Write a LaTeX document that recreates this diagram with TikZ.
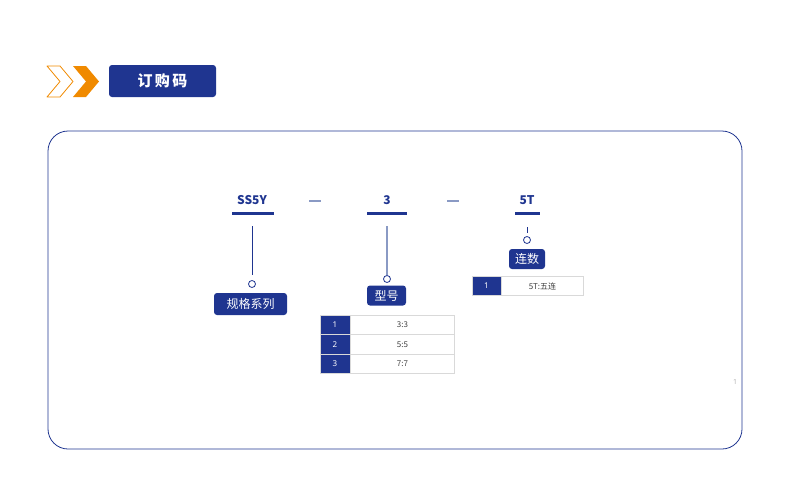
\documentclass[tikz,border=0pt]{standalone}
\usepackage{fontspec}
\setmainfont{Noto Sans}
\newfontfamily\cjk{Noto Sans CJK SC}
\definecolor{navy}{HTML}{1F3590}
\definecolor{orng}{HTML}{F08A00}
\definecolor{dashc}{HTML}{8A9AC4}
\definecolor{gridc}{HTML}{D9D9D9}
\tikzset{
  tag/.style={fill=navy, rounded corners=3pt, text=white, font=\cjk\fontsize{12}{12}\selectfont, inner sep=0pt},
  bar/.style={navy, line width=3pt},
  dot/.style={draw=navy, fill=white, circle, inner sep=0pt, minimum size=7pt, line width=0.8pt},
  code/.style={text=navy, font=\cjk\bfseries\fontsize{12}{12}\selectfont},
  numcell/.style={fill=navy, draw=gridc, text=white, font=\fontsize{8}{8}\selectfont},
  valcell/.style={fill=white, draw=gridc, text=black!75, font=\cjk\fontsize{8}{8}\selectfont},
}
\begin{document}
\begin{tikzpicture}[x=1pt,y=-1pt]
  \useasboundingbox (0,0) rectangle (790,485);
  % header
  \draw[orng, line width=0.8pt, line join=round] (47,66) -- (60,66) -- (73,81.5) -- (60,97) -- (47,97) -- (60,81.5) -- cycle;
  \fill[orng] (73,66) -- (86,66) -- (99,81.5) -- (86,97) -- (73,97) -- (86,81.5) -- cycle;
  \node[tag, minimum width=107pt, minimum height=32pt, font=\cjk\bfseries\fontsize{15}{15}\selectfont] (title) at (162.5,81) {订\,购\,码};
  % frame
  \draw[navy, line width=0.8pt, rounded corners=20pt] (48,131) rectangle (742,449);
  % codes
  \node[code] (c1) at (252,200) {SS5Y};
  \node[code] (c2) at (387,200) {3};
  \node[code] (c3) at (527,200) {5T};
  \draw[bar] (232,213) -- (274,213);
  \draw[bar] (367,213) -- (407,213);
  \draw[bar] (515,213) -- (540,213);
  \draw[dashc, line width=1.5pt] (309,201) -- (321,201);
  \draw[dashc, line width=1.5pt] (447,201) -- (459,201);
  % branches
  \node[dot] (d1) at (252,284) {};
  \node[dot] (d2) at (387,279) {};
  \node[dot] (d3) at (527,240) {};
  \draw[navy, line width=0.8pt] (252,226) -- (d1.north |- 0,275);
  \draw[dashc, line width=1.5pt] (387,226) -- (d2);
  \draw[navy, line width=0.8pt] (527,227) -- (527,233);
  \node[tag, minimum width=73pt, minimum height=22pt] (t1) at (250.5,304) {规格系列};
  \node[tag, minimum width=39pt, minimum height=20pt] (t2) at (386.5,295.5) {型号};
  \node[tag, minimum width=36pt, minimum height=20pt] (t3) at (527,259) {连数};
  % tables
  \node[numcell, minimum width=29pt, minimum height=19pt] (n31) at (486.5,286) {1};
  \node[valcell, minimum width=82pt, minimum height=19pt, anchor=west] (v31) at (n31.east) {5T:五连};
  \foreach \i/\v in {1/3:3,2/5:5,3/7:7}{
    \node[numcell, minimum width=30pt, minimum height=19.3pt] (n2\i) at (335,{305.7+19.3*\i}) {\i};
    \node[valcell, minimum width=104pt, minimum height=19.3pt, anchor=west] (v2\i) at (n2\i.east) {\v};
  }
  \node[text=black!30, font=\fontsize{7}{7}\selectfont] (pg) at (735,382) {1};
\end{tikzpicture}
\end{document}
